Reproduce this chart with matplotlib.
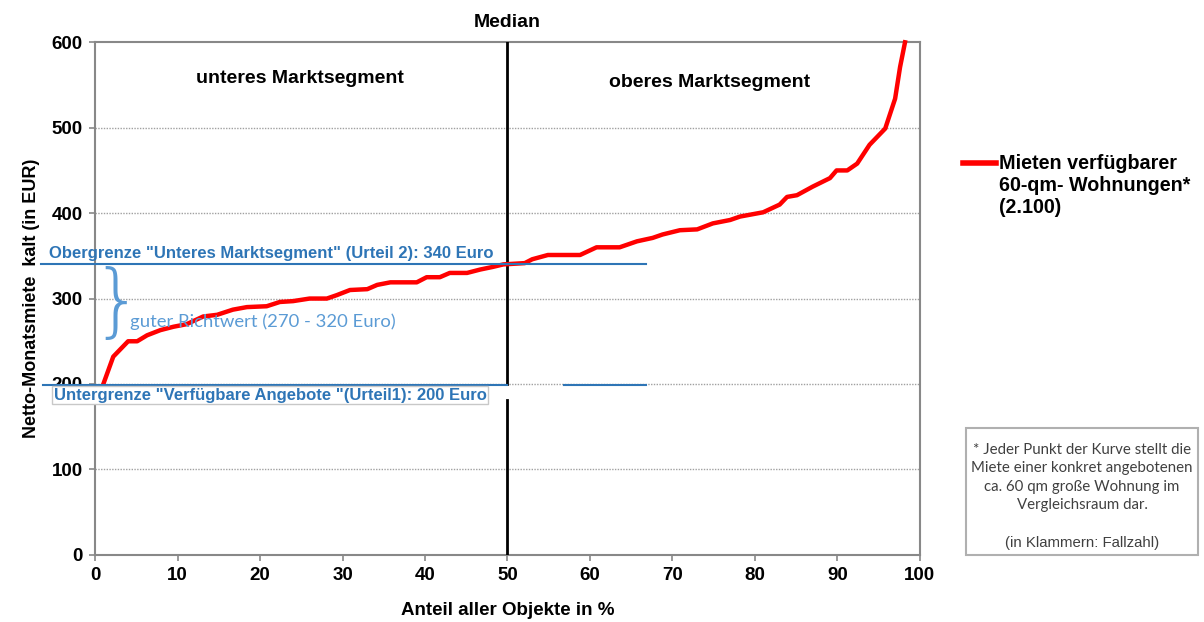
import matplotlib.pyplot as plt
from matplotlib.lines import Line2D
from matplotlib.patches import Rectangle

# Kurve: Anteil aller Objekte (%) und Netto-Monatsmiete kalt (EUR)
anteil = [1, 2.2, 4, 5.1, 6.3, 7.9, 9.5, 11.1, 13.1, 14.8, 16.7, 18.4, 20.8, 22.4, 24,
          26, 28.1, 29.3, 30.9, 33, 34.2, 35.8, 39, 40.2, 41.8, 43, 45.1, 46.7, 48.2, 49.5,
          52.1, 53, 54.9, 58.8, 60.8, 63.6, 65.7, 67.6, 68.8, 70.9, 73, 74.9, 77, 78.2, 81,
          83, 83.9, 85.1, 87, 89.1, 89.9, 91.2, 92.4, 93.9, 95.8, 97, 97.6, 98.2]
miete = [200, 232, 250, 250, 257, 263, 267, 270, 279, 281, 287, 290, 291, 296, 297,
         300, 300, 304, 310, 311, 316, 319, 319, 325, 325, 330, 330, 334, 337, 340,
         341.5, 346, 351, 351, 360, 360, 367, 371, 375, 380, 381, 388, 392, 396, 401,
         410, 419, 421, 431, 441, 450, 450, 458, 480, 499, 534, 571, 600]

median = 50
obergrenze = 340
untergrenze = 200
richtwert = (270, 320)

xticks = list(range(0, 101, 10))
yticks = list(range(0, 601, 100))

legend_label = "Mieten verfügbarer\n60-qm- Wohnungen*\n(2.100)"
note_text = ("* Jeder Punkt der Kurve stellt die\nMiete einer konkret angebotenen\n"
             "ca. 60 qm große Wohnung im\nVergleichsraum dar.")

plt.rcParams['font.family'] = ['Liberation Sans', 'DejaVu Sans']

fig = plt.figure(figsize=(12.04, 6.22), dpi=100)
ax = fig.add_axes([0.079, 0.108, 0.685, 0.824])

blue = '#2E75B6'
lightblue = '#5B9BD5'

# grid
for y in yticks[1:-1]:
    ax.axhline(y, color='#a0a0a0', lw=1, ls=(0, (1, 1)), zorder=1)

# median line with gap where the label box sits
ax.plot([median, median], [untergrenze, 600], color='black', lw=2, zorder=3)
ax.plot([median, median], [0, 181], color='black', lw=2, zorder=3)

# curve
ax.plot(anteil, miete, color='#FF0000', lw=3.2, solid_joinstyle='round', zorder=4, clip_on=False)

# boundary lines
ax.plot([-6.6, 66.8], [obergrenze, obergrenze], color=blue, lw=1.5, clip_on=False, zorder=5)
ax.plot([-6.3, median], [untergrenze - 1, untergrenze - 1], color=blue, lw=1.5, clip_on=False, zorder=5)
ax.plot([56.8, 66.8], [untergrenze - 1, untergrenze - 1], color=blue, lw=1.5, clip_on=False, zorder=5)

ax.text(-5.6, obergrenze + 4, 'Obergrenze "Unteres Marktsegment" (Urteil 2): 340 Euro',
        color=blue, fontsize=12, fontweight='bold', va='bottom', ha='left', zorder=6)
ax.text(-5.0, untergrenze - 13, 'Untergrenze "Verfügbare Angebote "(Urteil1): 200 Euro',
        color=blue, fontsize=12, fontweight='bold', va='center', ha='left', zorder=6,
        bbox=dict(boxstyle='square,pad=0.1', fc='white', ec='#c8c8c8', lw=1),
        clip_on=False)

# Richtwert brace
ax.text(2.6, sum(richtwert) / 2 - 2, '}', color=lightblue, fontsize=58,
        family='DejaVu Sans', fontweight='light', va='center', ha='center', zorder=6)
ax.text(4.2, 273, 'guter Richtwert (270 - 320 Euro)', color=lightblue, fontsize=13.3,
        family='Lato', va='center', ha='left', zorder=6)

# segment labels
ax.text(24.8, 558, 'unteres Marktsegment', fontsize=14, fontweight='bold', ha='center', va='center')
ax.text(74.5, 553, 'oberes Marktsegment', fontsize=14, fontweight='bold', ha='center', va='center')
ax.text(median, 613, 'Median', fontsize=14, fontweight='bold', ha='center', va='bottom', clip_on=False)

ax.set_xlim(0, 100)
ax.set_ylim(0, 600)
ax.set_xticks(xticks)
ax.set_yticks(yticks)
for lab in ax.get_xticklabels() + ax.get_yticklabels():
    lab.set_fontweight('bold')
    lab.set_fontsize(13.5)
ax.tick_params(axis='both', length=4, width=1.2, color='#888888', pad=5)
for s in ax.spines.values():
    s.set_color('#888888')
    s.set_linewidth(1.5)

ax.set_xlabel('Anteil aller Objekte in %', fontsize=13.5, fontweight='bold', labelpad=13)
ax.set_ylabel('Netto-Monatsmiete  kalt (in EUR)', fontsize=13, fontweight='bold', labelpad=8)

# legend (drawn by hand)
fig.add_artist(Line2D([963 / 1204, 996 / 1204], [1 - 163 / 622, 1 - 163 / 622],
                      color='#FF0000', lw=4))
fig.text(999 / 1204, 1 - 154 / 622, legend_label, fontsize=14.2, fontweight='bold',
         va='top', ha='left', linespacing=1.2)

# note box
fig.add_artist(Rectangle((966 / 1204, 1 - 555 / 622), 232 / 1204, 127 / 622,
                         transform=fig.transFigure, fc='white', ec='#b0b0b0', lw=1.5))
fig.text(1082 / 1204, 1 - 443 / 622, note_text, family='Lato', fontsize=10.8,
         color='#404040', ha='center', va='top', linespacing=1.4)
fig.text(1082 / 1204, 1 - 543 / 622, '(in Klammern: Fallzahl)', fontsize=10.8,
         color='#404040', ha='center', va='center')

fig.savefig('out.png', dpi=100)
